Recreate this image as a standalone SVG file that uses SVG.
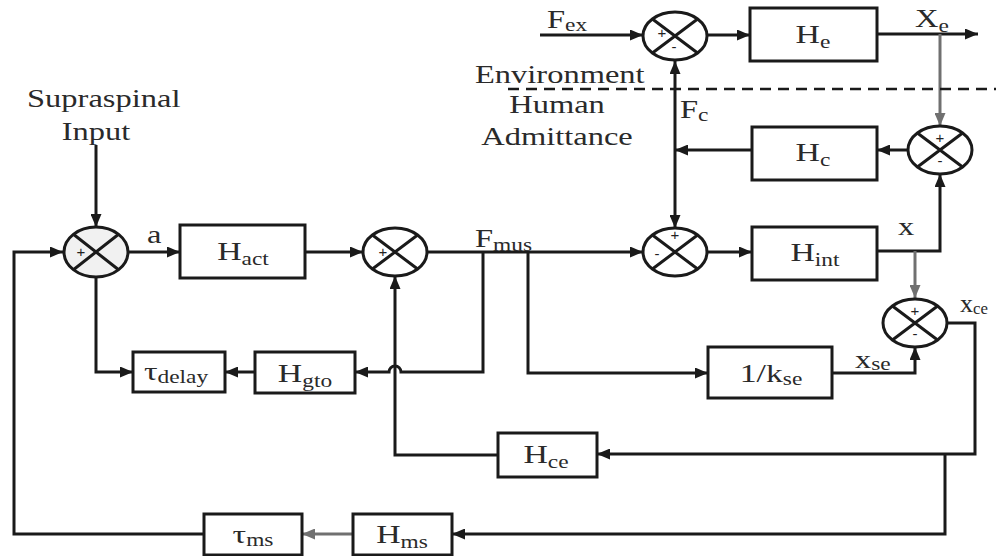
<svg xmlns="http://www.w3.org/2000/svg" width="996" height="556" viewBox="0 0 996 556">
<style>
.ln{stroke:#1a1a1a;stroke-width:3;fill:none}
.gr{stroke:#707070;stroke-width:3;fill:none}
.box{fill:#fff;stroke:#1a1a1a;stroke-width:3}
.sum{fill:#fff;stroke:#1a1a1a;stroke-width:3}
.x{stroke:#1a1a1a;stroke-width:3}
.t{font-family:"Liberation Serif","Times New Roman",serif;font-size:26px;fill:#2a2a2a;text-anchor:middle}
.l{font-family:"Liberation Serif","Times New Roman",serif;font-size:25px;fill:#2a2a2a}
.sub{font-size:18px}
.sg{font-family:"Liberation Sans",Arial,sans-serif;font-size:15px;fill:#222;text-anchor:middle}
</style>
<defs>
<marker id="ab" markerUnits="userSpaceOnUse" markerWidth="13" markerHeight="11" refX="13" refY="5.5" orient="auto"><path d="M0,0 L13,5.5 L0,11 z" fill="#1a1a1a"/></marker>
<marker id="ag" markerUnits="userSpaceOnUse" markerWidth="13" markerHeight="11" refX="13" refY="5.5" orient="auto"><path d="M0,0 L13,5.5 L0,11 z" fill="#707070"/></marker>
<marker id="as" markerUnits="userSpaceOnUse" markerWidth="13" markerHeight="11" refX="0" refY="5.5" orient="auto"><path d="M13,0 L0,5.5 L13,11 z" fill="#1a1a1a"/></marker>
</defs>

<g id="connectors">
<path class="ln" d="M96,145 V227" marker-end="url(#ab)"/>
<path class="ln" d="M204,534 H14 V252 H63" marker-end="url(#ab)"/>
<path class="ln" d="M128,252 H180" marker-end="url(#ab)"/>
<path class="ln" d="M305,252 H363" marker-end="url(#ab)"/>
<path class="ln" d="M427,252 H643" marker-end="url(#ab)"/>
<path class="ln" d="M483,252 V372 H401 A6,6 0 0 0 389,372 H355" marker-end="url(#ab)"/>
<path class="ln" d="M255,372 H225" marker-end="url(#ab)"/>
<path class="ln" d="M96,277 V372 H133" marker-end="url(#ab)"/>
<path class="ln" d="M528,252 V373 H708" marker-end="url(#ab)"/>
<path class="ln" d="M832,373 H915 V347" marker-end="url(#ab)"/>
<path class="ln" d="M707,252 H752" marker-end="url(#ab)"/>
<path class="ln" d="M877,251 H940 V174" marker-end="url(#ab)"/>
<path class="gr" d="M915,251 V298" marker-end="url(#ag)"/>
<path class="ln" d="M947,323 H975 V454 H597" marker-end="url(#ab)"/>
<path class="ln" d="M945,454 V534 H452" marker-end="url(#ab)"/>
<path class="gr" d="M353,534 H302" marker-end="url(#ag)"/>
<path class="ln" d="M498,455 H395 V276" marker-end="url(#ab)"/>
<path class="ln" d="M540,35 H643" marker-end="url(#ab)"/>
<path class="ln" d="M707,35 H750" marker-end="url(#ab)"/>
<path class="ln" d="M877,34 H978" marker-end="url(#ab)"/>
<path class="gr" d="M940,34 V126" marker-end="url(#ag)"/>
<path class="ln" d="M908,150 H877" marker-end="url(#ab)"/>
<path class="ln" d="M752,150 H675" marker-end="url(#ab)"/>
<path class="ln" d="M675,61 V228" marker-start="url(#as)" marker-end="url(#ab)"/>
<path d="M508,89 H996" stroke="#1a1a1a" stroke-width="2.5" stroke-dasharray="11 7" fill="none"/>
</g>

<g id="labels">
<text class="l" transform="translate(27,107) scale(1.3,1)">Supraspinal</text>
<text class="l" transform="translate(96,140) scale(1.3,1)" text-anchor="middle">Input</text>
<text class="l" transform="translate(475,83) scale(1.3,1)">Environment</text>
<text class="l" transform="translate(557,113) scale(1.3,1)" text-anchor="middle">Human</text>
<text class="l" transform="translate(557,145) scale(1.3,1)" text-anchor="middle">Admittance</text>
<text class="l" transform="translate(547,28) scale(1.3,1)">F<tspan class="sub" dy="3">ex</tspan></text>
<text class="l" transform="translate(915,27) scale(1.3,1)">X<tspan class="sub" dy="5">e</tspan></text>
<text class="l" transform="translate(680,118) scale(1.3,1)">F<tspan class="sub" dy="3">c</tspan></text>
<text class="l" transform="translate(147,243) scale(1.3,1)">a</text>
<text class="l" transform="translate(475,247) scale(1.3,1)">F<tspan class="sub" dy="4">mus</tspan></text>
<text class="l" transform="translate(898,235) scale(1.3,1)">x</text>
<text class="l" transform="translate(960,312) scale(1.05,1)">x<tspan class="sub" dy="2" style="font-size:16px">ce</tspan></text>
<text class="l" transform="translate(855,368) scale(1.3,1)">x<tspan class="sub" dy="2">se</tspan></text>
</g>

<g id="sum1"><ellipse class="sum" cx="96" cy="252" rx="32" ry="25" style="fill:#f1f1f1"/><path class="x" d="M73.4,234.3 L118.6,269.7 M118.6,234.3 L73.4,269.7"/><text class="sg" x="81" y="257">+</text></g>
<g id="sum2"><ellipse class="sum" cx="395" cy="252" rx="32" ry="24"/><path class="x" d="M372.4,235 L417.6,269 M417.6,235 L372.4,269"/><text class="sg" x="383" y="257">+</text></g>
<g id="sum3"><ellipse class="sum" cx="675" cy="252" rx="32" ry="24"/><path class="x" d="M652.4,235 L697.6,269 M697.6,235 L652.4,269"/><text class="sg" x="675" y="240">+</text><text class="sg" x="657" y="259">-</text></g>
<g id="sum4"><ellipse class="sum" cx="915" cy="323" rx="32" ry="24"/><path class="x" d="M892.4,306 L937.6,340 M937.6,306 L892.4,340"/><text class="sg" x="915" y="316">+</text><text class="sg" x="915" y="339">-</text></g>
<g id="sumTop"><ellipse class="sum" cx="675" cy="36" rx="32" ry="24"/><path class="x" d="M652.4,19 L697.6,53 M697.6,19 L652.4,53"/><text class="sg" x="662" y="38">+</text><text class="sg" x="674" y="52">-</text></g>
<g id="sumRight"><ellipse class="sum" cx="940" cy="150" rx="32" ry="24"/><path class="x" d="M917.4,133 L962.6,167 M962.6,133 L917.4,167"/><text class="sg" x="940" y="143">+</text><text class="sg" x="940" y="166">-</text></g>

<g id="Hact"><rect class="box" x="180" y="225" width="125" height="53"/><text class="t" transform="translate(243,260) scale(1.3,1)">H<tspan class="sub" dy="5">act</tspan></text></g>
<g id="He"><rect class="box" x="750" y="8" width="127" height="53"/><text class="t" transform="translate(813,43) scale(1.3,1)">H<tspan class="sub" dy="5">e</tspan></text></g>
<g id="Hc"><rect class="box" x="752" y="127" width="125" height="53"/><text class="t" transform="translate(813,161) scale(1.3,1)">H<tspan class="sub" dy="5">c</tspan></text></g>
<g id="Hint"><rect class="box" x="752" y="227" width="125" height="53"/><text class="t" transform="translate(815,261) scale(1.3,1)">H<tspan class="sub" dy="5">int</tspan></text></g>
<g id="tdelay"><rect class="box" x="133" y="352" width="92" height="40"/><text class="t" transform="translate(176,380) scale(1.3,1)">τ<tspan class="sub" dy="3">delay</tspan></text></g>
<g id="Hgto"><rect class="box" x="255" y="352" width="100" height="41"/><text class="t" transform="translate(305,382) scale(1.3,1)">H<tspan class="sub" dy="5">gto</tspan></text></g>
<g id="kse"><rect class="box" x="708" y="347" width="124" height="51"/><text class="t" transform="translate(771,382) scale(1.3,1)">1/k<tspan class="sub" dy="3">se</tspan></text></g>
<g id="Hce"><rect class="box" x="498" y="433" width="99" height="44"/><text class="t" transform="translate(546,463) scale(1.3,1)">H<tspan class="sub" dy="5">ce</tspan></text></g>
<g id="Hms"><rect class="box" x="353" y="514" width="99" height="41"/><text class="t" transform="translate(402,543) scale(1.3,1)">H<tspan class="sub" dy="5">ms</tspan></text></g>
<g id="tms"><rect class="box" x="204" y="514" width="98" height="41"/><text class="t" transform="translate(253,543) scale(1.3,1)">τ<tspan class="sub" dy="3">ms</tspan></text></g>
</svg>
